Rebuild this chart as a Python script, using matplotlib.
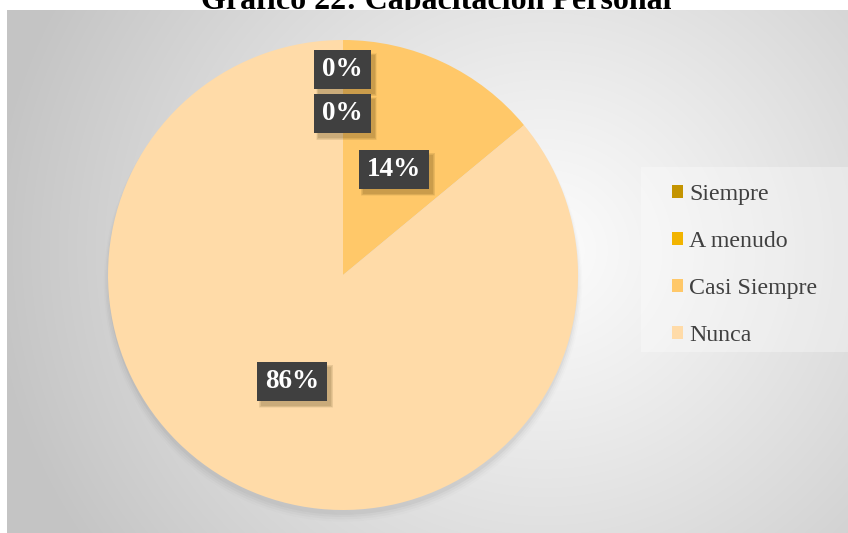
import numpy as np
import matplotlib
matplotlib.use("Agg")
import matplotlib.pyplot as plt
from matplotlib.patches import Rectangle, Patch, Circle
from matplotlib.transforms import IdentityTransform

# ---- data ----
categories = ["Siempre", "A menudo", "Casi Siempre", "Nunca"]
percentages = [0, 0, 14, 86]
colors = ["#C49400", "#F2B400", "#FFC869", "#FFDBA8"]
title = "Gráfico 22: Capacitación Personal"

W, H = 848, 533
SERIF = ["Liberation Serif", "DejaVu Serif"]

fig = plt.figure(figsize=(W / 100, H / 100), dpi=100)
fig.patch.set_facecolor("white")


def px_box(x0, y0, x1, y1):
    """Figure-fraction rect from pixel coords measured from the top-left."""
    return [x0 / W, (H - y1) / H, (x1 - x0) / W, (y1 - y0) / H]


# ---- chart area with radial gradient background ----
fx0, fy0, fx1, fy1 = 7, 10, 848, 533
bg = fig.add_axes(px_box(fx0, fy0, fx1, fy1), zorder=0)
gx, gy = np.meshgrid(np.arange(fx0, fx1), np.arange(fy0, fy1))
cx, cy = 545, 250
d = np.hypot(gx - cx, (gy - cy) * 1.05)
t = np.clip(d / 560.0, 0, 1) ** 1.1
shade = 252 - (252 - 196) * t
img = np.dstack([shade, shade, shade]) / 255.0
bg.imshow(img, aspect="auto", extent=[0, 1, 0, 1], interpolation="bilinear")
bg.set_xlim(0, 1)
bg.set_ylim(0, 1)
bg.axis("off")

# title sits behind the chart area, which clips its lower edge
fig.text(436 / W, 1 - 9 / H, title, ha="center", va="baseline",
         fontsize=23, fontweight="bold", family=SERIF, color="black",
         zorder=-1)

# ---- pie ----
pcx, pcy, r = 343, 275, 235
ax = fig.add_axes(px_box(pcx - r, pcy - r, pcx + r, pcy + r), zorder=1)
ax.set_facecolor("none")

# soft shadow under the pie
for k, a in enumerate([0.035, 0.025, 0.018, 0.012]):
    ax.add_patch(Circle((0.0, -0.02 - 0.004 * k), 1.0 + 0.006 * k, color="black",
                        alpha=a, lw=0, zorder=0, clip_on=False))

wedges, _ = ax.pie(percentages, colors=colors, startangle=90,
                   counterclock=False, radius=1.0,
                   wedgeprops=dict(linewidth=0))
for w in wedges:
    w.set_zorder(2)
ax.set_xlim(-1, 1)
ax.set_ylim(-1, 1)
ax.axis("off")

# data label anchor points (in pie radius units)
label_pos = [(-0.002, 0.874), (-0.002, 0.687), (0.217, 0.449), (-0.217, -0.453)]

texts = []
for (lx, ly), v in zip(label_pos, percentages):
    txt = ax.text(lx, ly, f"{v}%", ha="center", va="center", fontsize=19.5,
                  fontweight="bold", family=SERIF, color="white", zorder=10)
    texts.append(txt)

fig.canvas.draw()
renderer = fig.canvas.get_renderer()
for txt in texts:
    bb = txt.get_window_extent(renderer)
    cxp, cyp = ax.transData.transform(txt.get_position())
    bw = bb.width + 16
    bh = 39
    x0 = cxp - bw / 2
    y0 = cyp - bh / 2
    # blurred drop shadow
    for k, a in enumerate([0.10, 0.08, 0.06, 0.05]):
        s = k * 1.5
        ax.add_artist(Rectangle((x0 + 4 - s / 2, y0 - 5 - s / 2), bw + s, bh + s,
                                transform=IdentityTransform(), fc="#3a2a00",
                                ec="none", alpha=a, zorder=4, clip_on=False))
    box = Rectangle((x0, y0), bw, bh, transform=IdentityTransform(),
                    fc="#404040", ec="none", zorder=5, clip_on=False)
    ax.add_artist(box)

# ---- legend ----
fig.add_artist(Rectangle((641 / W, (H - 352) / H), (848 - 641) / W, (352 - 167) / H,
                         transform=fig.transFigure, fc="white", ec="none",
                         alpha=0.32, zorder=2))
handles = [Patch(facecolor=c, edgecolor="none") for c in colors]
leg = fig.legend(handles, categories, loc="upper left",
                 bbox_to_anchor=(672 / W, 1 - 184 / H), frameon=False,
                 prop={"family": SERIF, "size": 17.2},
                 handlelength=0.46, handleheight=0.46, handletextpad=0.25,
                 labelspacing=1.095, borderpad=0, borderaxespad=0)
leg.set_zorder(3)
for t_ in leg.get_texts():
    t_.set_color("#404040")

fig.savefig("out.png", dpi=100, facecolor="white")
